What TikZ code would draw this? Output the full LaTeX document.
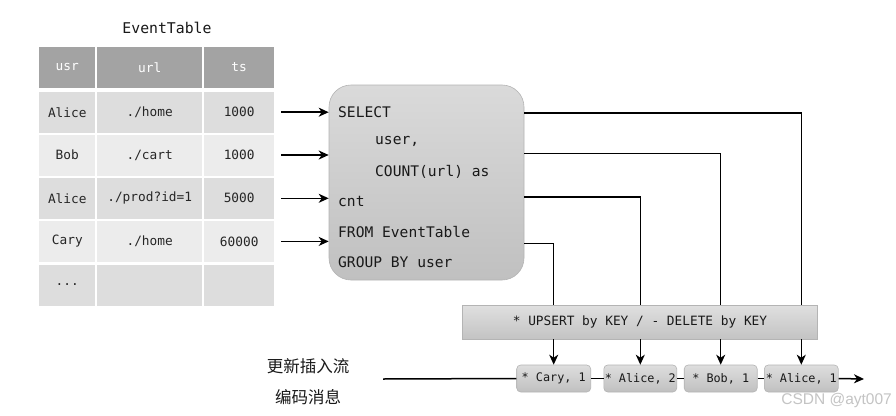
\documentclass[tikz,border=0pt]{standalone}
\usepackage{fontspec}
\setmonofont{DejaVu Sans Mono}
\newfontfamily\cjk{Noto Sans CJK SC}
\newfontfamily\wmfont{Liberation Sans}
\usetikzlibrary{arrows.meta}
\definecolor{hdr}{HTML}{A3A3A3}
\definecolor{rowdark}{HTML}{DDDDDD}
\definecolor{rowlight}{HTML}{ECECEC}
\definecolor{boxtop}{HTML}{DADADA}
\definecolor{boxbot}{HTML}{C0C0C0}
\definecolor{boxedge}{HTML}{B4B4B4}
\definecolor{wmgray}{HTML}{C4C4C4}
\begin{document}
\begin{tikzpicture}[x=1pt,y=-1pt,
  cell/.style={rectangle, inner sep=0pt, minimum height=41pt, font=\ttfamily\fontsize{12.8}{15}\selectfont, text=black!85},
  hcell/.style={cell, fill=hdr, text=white},
  dcell/.style={cell, fill=rowdark},
  lcell/.style={cell, fill=rowlight},
  wusr/.style={minimum width=56pt},
  wurl/.style={minimum width=105pt},
  wts/.style={minimum width=70pt},
  sqltext/.style={anchor=west, inner sep=0pt, font=\ttfamily\fontsize{14.6}{17}\selectfont, text=black!90},
  line/.style={draw=black, line width=1.5pt},
  arrow/.style={line, -{Stealth[length=10pt,width=9pt,inset=3pt]}},
  keybox/.style={rectangle, rounded corners=4pt, draw=boxedge, line width=0.6pt, top color=boxtop!90!white, bottom color=boxbot, minimum width=74pt, minimum height=27pt, inner sep=0pt, font=\ttfamily\fontsize{11.8}{14}\selectfont, text=black!90}
]
\useasboundingbox (0,0) rectangle (896,415);
\fill[white] (0,0) rectangle (896,415);

% title
\node[font=\ttfamily\fontsize{14.8}{17}\selectfont, text=black!90] (title) at (167,28) {EventTable};

% header
\node[hcell, wusr] (h1) at (67.3,67.2) {usr};
\node[hcell, wurl] (h2) at (149.7,67.2) {url};
\node[hcell, wts]  (h3) at (239.2,67.2) {ts};
% row 1
\node[dcell, wusr] (u1) at (67.3,112.2) {Alice};
\node[dcell, wurl] (r1) at (149.7,112.2) {./home};
\node[dcell, wts]  (t1) at (239.2,112.2) {1000};
% row 2
\node[lcell, wusr] (u2) at (67.3,155) {Bob};
\node[lcell, wurl] (r2) at (149.7,155) {./cart};
\node[lcell, wts]  (t2) at (239.2,155) {1000};
% row 3
\node[dcell, wusr] (u3) at (67.3,198.3) {Alice};
\node[dcell, wurl] (r3) at (149.7,198.3) {./prod?id=1};
\node[dcell, wts]  (t3) at (239.2,198.3) {5000};
% row 4
\node[lcell, wusr] (u4) at (67.3,241.4) {Cary};
\node[lcell, wurl] (r4) at (149.7,241.4) {./home};
\node[lcell, wts]  (t4) at (239.2,241.4) {60000};
% row 5
\node[dcell, wusr] (u5) at (67.3,285) {...};
\node[dcell, wurl] (r5) at (149.7,285) {};
\node[dcell, wts]  (t5) at (239.2,285) {};

% SQL box
\node[rectangle, rounded corners=22pt, draw=boxedge, line width=0.6pt,
      top color=boxtop, bottom color=boxbot, minimum width=195pt, minimum height=195pt,
      inner sep=0pt] (sql) at (426.5,182.5) {};
\node[sqltext] (s1) at (338,111.7) {SELECT};
\node[sqltext] (s2) at (375,141.7) {user,};
\node[sqltext] (s3) at (375,171.7) {COUNT(url) as};
\node[sqltext] (s4) at (338,201.7) {cnt};
\node[sqltext] (s5) at (338,231.7) {FROM EventTable};
\node[sqltext] (s6) at (338,261.7) {GROUP BY user};

% input arrows
\draw[arrow] ([xshift=7pt]t1.east) -- (sql.west |- t1.east);
\draw[arrow] ([xshift=7pt]t2.east) -- (sql.west |- t2.east);
\draw[arrow] ([xshift=7pt]t3.east) -- (sql.west |- t3.east);
\draw[arrow] ([xshift=7pt]t4.east) -- (sql.west |- t4.east);

% UPSERT bar
\node[rectangle, draw=boxedge, line width=0.6pt, top color=boxtop!85!white, bottom color=boxbot!95!white,
      minimum width=355pt, minimum height=34pt, inner sep=0pt,
      font=\ttfamily\fontsize{12.8}{15}\selectfont, text=black!90] (bar) at (640,322) {* UPSERT by KEY / - DELETE by KEY};

% key boxes
\node[keybox] (k1) at (553.7,378.5) {* Cary, 1\hspace{6pt}};
\node[keybox, minimum width=73pt] (k2) at (640.3,378.5) {* Alice, 2};
\node[keybox, minimum width=73pt] (k3) at (720.7,378.5) {* Bob, 1\hspace{12pt}};
\node[keybox] (k4) at (801.3,378.5) {* Alice, 1};

% output ports on SQL box
\coordinate (o1) at (524,113);
\coordinate (o2) at (524,153.5);
\coordinate (o3) at (524,197);
\coordinate (o4) at (524,243.5);

\draw[line] (o1) -| (k4.north |- bar.north);
\draw[line] (o2) -| (k3.north |- bar.north);
\draw[line] (o3) -| (k2.north |- bar.north);
\draw[line] (o4) -| (k1.north |- bar.north);

\draw[arrow] (k1.north |- bar.south) -- (k1.north);
\draw[arrow] (k2.north |- bar.south) -- (k2.north);
\draw[arrow] (k3.north |- bar.south) -- (k3.north);
\draw[arrow] (k4.north |- bar.south) -- (k4.north);

% timeline
\coordinate (tstart) at (383,379);
\coordinate (tend) at (864,379);
\draw[line] (tstart) -- (k1.west);
\draw[line] (k1.east) -- (k2.west);
\draw[line] (k2.east) -- (k3.west);
\draw[line] (k3.east) -- (k4.west);
\draw[arrow] (k4.east) -- (tend);

% labels
\node[font=\cjk\fontsize{16.5}{19}\selectfont, text=black!90] (cn1) at (308,365.7) {更新插入流};
\node[font=\cjk\fontsize{16.5}{19}\selectfont, text=black!90] (cn2) at (308,396.7) {编码消息};

% watermark
\node[font=\wmfont\fontsize{15.5}{18}\selectfont, text=wmgray, anchor=east, inner sep=0pt] (wm) at (892,400) {CSDN @ayt007};
\end{tikzpicture}
\end{document}
